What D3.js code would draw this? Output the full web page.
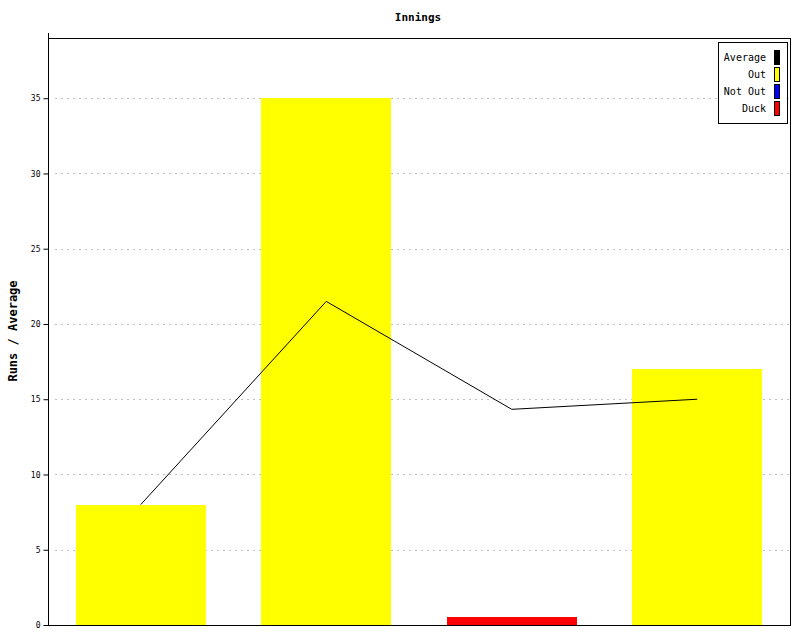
<!DOCTYPE html>
<html><head><meta charset="utf-8">
<script src="https://cdn.jsdelivr.net/npm/d3@7"></script>
<style>body{margin:0;background:#fff}svg{display:block}</style>
</head><body><svg id="c" width="800" height="640"></svg>
<script>
const categories = ["1", "2", "3", "4"];
const runs = [8, 35, 0.5, 17];
const status = ["Out", "Out", "Duck", "Out"];
const average = [8, 21.5, 14.33, 15];
const yTicks = [0, 5, 10, 15, 20, 25, 30, 35];
const legendLabels = ["Average", "Out", "Not Out", "Duck"];
const legendColors = ["#000000", "#ffff00", "#0000ff", "#ff0000"];
const colorByStatus = {"Out": "#ffff00", "Not Out": "#0000ff", "Duck": "#ff0000"};

const svg = d3.select("#c");
const L = 48, R = 790, T = 38, B = 625;
const x = d3.scaleBand().domain(categories).range([L, R]).paddingInner(0.3).paddingOuter(0.15);
const y = d3.scaleLinear().domain([0, 39]).range([B, T]);
const font = "'DejaVu Sans Mono', monospace";

// grid
svg.append("g").selectAll("line").data(yTicks.filter(d => d > 0)).join("line")
  .attr("x1", L + 7).attr("x2", R).attr("y1", d => Math.round(y(d)) + 0.5).attr("y2", d => Math.round(y(d)) + 0.5)
  .attr("stroke", "#c0c0c0").attr("stroke-dasharray", "2,4");

// bars
svg.append("g").selectAll("rect").data(categories).join("rect")
  .attr("x", d => Math.round(x(d))).attr("width", Math.round(x.bandwidth()))
  .attr("y", (d, i) => Math.round(y(runs[i]))).attr("height", (d, i) => B - Math.round(y(runs[i])))
  .attr("fill", (d, i) => colorByStatus[status[i]]);

// average line
svg.append("path").datum(average)
  .attr("d", d3.line().x((d, i) => x(categories[i]) + x.bandwidth() / 2).y(d => y(d)))
  .attr("fill", "none").attr("stroke", "#000").attr("stroke-width", 1);

// frame
svg.append("line").attr("x1", L).attr("x2", R).attr("y1", T + 0.5).attr("y2", T + 0.5).attr("stroke", "#000");
svg.append("line").attr("x1", R + 0.5).attr("x2", R + 0.5).attr("y1", T).attr("y2", B).attr("stroke", "#000");

// y axis
const yAxis = svg.append("g").attr("transform", `translate(${L + 0.5},0)`)
  .call(d3.axisLeft(y).tickValues(yTicks).tickSize(5).tickSizeOuter(0).tickPadding(3));
yAxis.select(".domain").remove();
yAxis.selectAll("text").attr("font-family", font).attr("font-size", 8).attr("fill", "#000");
yAxis.selectAll("line").attr("stroke", "#000");
svg.append("line").attr("x1", L + 0.5).attr("x2", L + 0.5).attr("y1", 33).attr("y2", B + 1).attr("stroke", "#000");
svg.append("line").attr("x1", L).attr("x2", R + 1).attr("y1", B + 0.5).attr("y2", B + 0.5).attr("stroke", "#000");

// title
svg.append("text").attr("x", 418).attr("y", 21).attr("text-anchor", "middle")
  .attr("font-family", font).attr("font-size", 11).attr("font-weight", "bold").text("Innings");

// y label
svg.append("text").attr("transform", "translate(17,331) rotate(-90)").attr("text-anchor", "middle")
  .attr("font-family", font).attr("font-size", 12).attr("font-weight", "bold").text("Runs / Average");

// legend
const lg = svg.append("g");
lg.append("rect").attr("x", 718.5).attr("y", 42.5).attr("width", 69).attr("height", 81)
  .attr("fill", "#fff").attr("stroke", "#000");
legendLabels.forEach((lab, i) => {
  const yy = 50 + i * 17;
  lg.append("rect").attr("x", 774.5).attr("y", yy + 0.5).attr("width", 5).attr("height", 14)
    .attr("fill", legendColors[i]).attr("stroke", "#000");
  lg.append("text").attr("x", 766).attr("y", yy + 11).attr("text-anchor", "end")
    .attr("font-family", font).attr("font-size", 10).text(lab);
});
</script></body></html>
